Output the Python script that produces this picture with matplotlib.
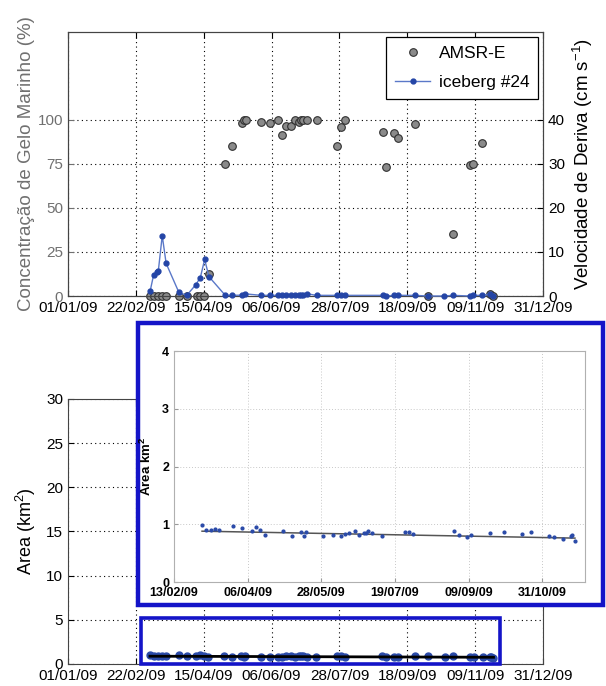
"""Sea ice concentration, drift speed and area of iceberg #24 (2009)"""

import numpy as np
import pandas as pd
import matplotlib
matplotlib.use("Agg")
import matplotlib.pyplot as plt
import matplotlib.dates as mdates
from matplotlib.patches import Rectangle
from matplotlib.lines import Line2D

plt.rcParams['font.family'] = ['Liberation Sans', 'DejaVu Sans']
plt.rcParams['mathtext.default'] = 'regular'

START = pd.Timestamp('2009-01-01')

# AMSR-E sea ice concentration (%) - days after 01/01/09
amsr_days = [63, 66, 69, 72, 75, 85, 91, 98.5, 101.5, 104.5, 108, 120.5, 126,
             133.5, 135, 136, 148, 155, 161, 164, 167, 171, 174, 177, 178.7,
             180.2, 183, 190.4, 206, 209, 212, 241.4, 243.5, 250, 252.7, 265.8,
             275.7, 294.8, 308, 310.3, 317.5, 323.4, 325.8]
amsr_conc = [0, 0, 0, 0, 0, 0, 0, 0, 0, 0, 12.3, 75, 85,
             98, 100, 100, 99, 98, 100, 91.5, 96.6, 96.6, 100, 98.7, 100,
             100, 100, 100, 85, 96, 100, 93, 73, 92.6, 89.8, 97.7,
             0, 35, 74.5, 75, 87, 1, 0]

# iceberg #24 drift speed (cm/s)
ice_days = [63, 65.6, 68, 69.2, 72.2, 75.2, 85, 91, 98, 101.4, 104.7, 108,
            120.5, 126, 133.4, 135.5, 148, 155, 161, 164, 167, 171, 174, 177,
            178.7, 180.2, 183.2, 190.4, 206, 209, 212, 241.4, 243.5, 250, 252.7,
            265.8, 275.7, 288, 294.8, 308, 310.3, 317.5, 323.4, 325.8]
ice_speed = [1.2, 4.8, 5.5, 5.7, 13.7, 7.4, 0.8, 0.15, 2.6, 4.2, 8.3, 4.4,
             0.15, 0.15, 0.2, 0.5, 0.15, 0.15, 0.15, 0.15, 0.15, 0.15, 0.15, 0.3,
             0.2, 0.2, 0.5, 0.15, 0.15, 0.15, 0.15, 0.15, 0, 0.15, 0.15,
             0.15, 0, 0, 0.15, 0, 0.15, 0.15, 0.4, 0]

# iceberg area (km2)
area_days = [62.8, 65.6, 68.9, 71.9, 74.8, 84.9, 90.8, 97.8, 100.9, 104, 107,
             119.7, 126, 132.9, 135, 135.9, 147.9, 155, 160.9, 163.9, 166.8,
             171, 173.8, 176.9, 178.3, 179.9, 183, 189.8, 206, 208.9, 211.9,
             240.9, 244, 249.8, 252.7, 266, 276.2, 288.9, 294.8, 307.7, 311,
             317.8, 323, 323.9, 326]
area_km2 = [0.98, 0.90, 0.90, 0.915, 0.90, 0.97, 0.94, 0.88, 0.96, 0.90, 0.82,
            0.89, 0.80, 0.86, 0.79, 0.86, 0.80, 0.81, 0.79, 0.83, 0.85,
            0.89, 0.82, 0.85, 0.85, 0.88, 0.84, 0.79, 0.86, 0.86, 0.83,
            0.875, 0.81, 0.78, 0.81, 0.85, 0.86, 0.83, 0.86, 0.79, 0.78,
            0.75, 0.80, 0.81, 0.71]
trend_days = [62.8, 326]
trend_km2 = [0.88, 0.76]

main_ticks = ['01/01/09', '22/02/09', '15/04/09', '06/06/09', '28/07/09',
              '18/09/09', '09/11/09', '31/12/09']
inset_ticks = ['13/02/09', '06/04/09', '28/05/09', '19/07/09', '09/09/09',
               '31/10/09']


def to_dates(days):
    """day offsets -> timestamps"""
    return START + pd.to_timedelta(np.asarray(days, dtype=float), unit='D')


def tick_dates(labels):
    return [pd.to_datetime(t, format='%d/%m/%y') for t in labels]


def style_main(ax):
    ax.set_xlim(tick_dates(main_ticks)[0], tick_dates(main_ticks)[-1])
    ax.set_xticks(tick_dates(main_ticks))
    ax.xaxis.set_major_formatter(mdates.DateFormatter('%d/%m/%y'))
    ax.tick_params(direction='in', length=4, labelsize=11, top=True)
    ax.grid(True, color='black', linestyle=(0, (1, 3)), linewidth=0.8)
    for s in ax.spines.values():
        s.set_color('#444444')


fig = plt.figure(figsize=(6.06, 6.86), dpi=100)

# ---- top panel: concentration + drift speed
ax1 = fig.add_axes([0.1122, 0.5685, 0.784, 0.385])
style_main(ax1)
ax1.set_ylim(0, 150)
ax1.set_yticks([0, 25, 50, 75, 100])
ax1.tick_params(axis='y', colors='#707070', labelcolor='#707070', right=False)
ax1.set_ylabel('Concentração de Gelo Marinho (%)', fontsize=13.5,
               color='#707070', labelpad=2)
ax1.plot(to_dates(amsr_days), amsr_conc, 'o', ms=5.5, mfc='#8a8a8a',
         mec='#303030', mew=0.8, zorder=3, clip_on=False)

ax2 = ax1.twinx()
ax2.set_ylim(0, 60)
ax2.set_yticks([0, 10, 20, 30, 40])
ax2.tick_params(direction='in', length=4, labelsize=11)
ax2.set_ylabel('Velocidade de Deriva (cm s$^{-1}$)', fontsize=13.5, labelpad=4)
ax2.plot(to_dates(ice_days), ice_speed, '-', color='#5a78c8', lw=1.0,
         marker='o', ms=3.5, mfc='#2445a6', mec='#2445a6', zorder=4,
         clip_on=False)
for s in ax2.spines.values():
    s.set_color('#444444')

handles = [Line2D([], [], ls='none', marker='o', ms=5.5, mfc='#8a8a8a',
                  mec='#303030', mew=0.8),
           Line2D([], [], color='#5a78c8', lw=1.0, marker='o', ms=3.5,
                  mfc='#2445a6', mec='#2445a6')]
leg = ax2.legend(handles, ['AMSR-E', 'iceberg #24'], loc='upper right',
                 fontsize=12.5, fancybox=False, framealpha=1,
                 edgecolor='black', borderaxespad=0.3, handlelength=2.0,
                 handletextpad=0.5, borderpad=0.5, labelspacing=0.8)
leg.get_frame().set_linewidth(0.9)

# ---- bottom panel: area
ax3 = fig.add_axes([0.1122, 0.0321, 0.784, 0.3863])
style_main(ax3)
ax3.set_ylim(0, 30)
ax3.set_yticks([0, 5, 10, 15, 20, 25, 30])
ax3.set_ylabel('Area (km$^2$)', fontsize=13, labelpad=6)
ax3.plot(to_dates(area_days), area_km2, 'o', ms=5, color='#2a4aa8', zorder=3)
ax3.plot(to_dates(trend_days), trend_km2, '-', color='black', lw=2, zorder=4)
ax3.add_patch(Rectangle((mdates.date2num(to_dates([56])[0]), -0.05),
                        mdates.date2num(to_dates([331])[0])
                        - mdates.date2num(to_dates([56])[0]), 5.2,
                        fill=False, edgecolor='#1414c8', lw=2.6, zorder=5,
                        clip_on=False))

# ---- zoomed inset with blue frame
frame = Rectangle((0.2277, 0.1181), 0.7673, 0.4111, transform=fig.transFigure,
                  facecolor='white', edgecolor='#1414c8', lw=3.2, zorder=1)
fig.add_artist(frame)

ax4 = fig.add_axes([0.2871, 0.1516, 0.678, 0.3367])
ax4.set_zorder(2)
ax4.set_xlim(tick_dates(inset_ticks)[0], to_dates([333])[0])
ax4.set_xticks(tick_dates(inset_ticks))
ax4.xaxis.set_major_formatter(mdates.DateFormatter('%d/%m/%y'))
ax4.set_ylim(0, 4)
ax4.set_yticks([0, 1, 2, 3, 4])
ax4.tick_params(direction='in', length=3, labelsize=9, color='#999999')
for lab in ax4.get_xticklabels() + ax4.get_yticklabels():
    lab.set_fontweight('bold')
ax4.grid(True, color='#c8c8c8', linestyle=(0, (1, 2)), linewidth=0.7)
for s in ax4.spines.values():
    s.set_color('#b0b0b0')
ax4.set_ylabel('Area km$^2$', fontsize=9.5, fontweight='bold', labelpad=6)
ax4.plot(to_dates(area_days), area_km2, 'o', ms=2, color='#2a4aa8', zorder=3)
ax4.plot(to_dates(trend_days), trend_km2, '-', color='#555555', lw=1.1,
         zorder=2)

fig.savefig('out.png', dpi=100)
